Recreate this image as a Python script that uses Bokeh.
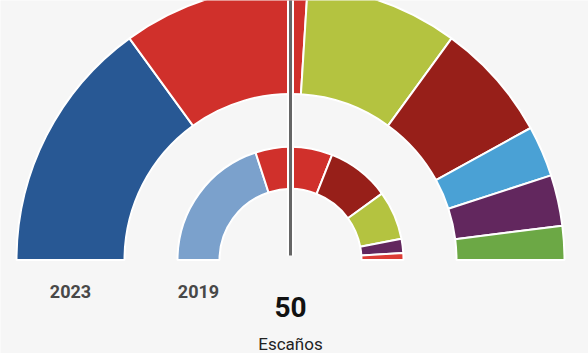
import numpy as np
from bokeh.plotting import figure
from bokeh.models import ColumnDataSource
from bokeh.core.properties import value
from bokeh.embed import file_html
from bokeh.resources import INLINE

# ---- data ----
total_seats = 50
parties_2023 = ["UPN", "PSN-PSOE", "EH Bildu", "Geroa Bai", "PP", "Contigo-Zurekin", "Vox"]
seats_2023 = [15, 11, 9, 7, 3, 3, 2]
colors_2023 = ["#285894", "#d0302b", "#b4c340", "#971f19", "#4aa1d5", "#62275e", "#6ca845"]

parties_2019 = ["Navarra Suma", "PSN-PSOE", "Geroa Bai", "EH Bildu", "Podemos", "I-E"]
seats_2019 = [20, 11, 9, 7, 2, 1]
colors_2019 = ["#7ba1cc", "#d0302b", "#971f19", "#b4c340", "#62275e", "#dc3c35"]

ring_labels = ["2023", "2019"]
center_number = "50"
center_label = "Escaños"

W, H = 588, 353
BG = "#f6f6f6"
cx, cy = 290, 93.5


def ring_source(parties, seats, colors):
    s = np.array(seats, dtype=float)
    c1 = np.cumsum(s)
    c0 = c1 - s
    step = np.pi / total_seats
    return ColumnDataSource(dict(
        party=parties, seats=seats, color=colors,
        start=np.pi - c1 * step, end=np.pi - c0 * step,
    ))


p = figure(width=W, height=H, x_range=(0, W), y_range=(0, H),
           output_backend="svg", toolbar_location=None, min_border=0)
p.axis.visible = False
p.grid.visible = False
p.outline_line_color = None
p.background_fill_color = BG
p.border_fill_color = BG

src23 = ring_source(parties_2023, seats_2023, colors_2023)
src19 = ring_source(parties_2019, seats_2019, colors_2019)

p.annular_wedge(x=cx, y=cy, inner_radius=166, outer_radius=274,
                start_angle="start", end_angle="end", fill_color="color",
                line_color="white", line_width=2, source=src23)
p.annular_wedge(x=cx, y=cy, inner_radius=71, outer_radius=113,
                start_angle="start", end_angle="end", fill_color="color",
                line_color="white", line_width=2, source=src19)

# majority line
p.segment(x0=[cx], y0=[98], x1=[cx], y1=[H + 10], line_color="white", line_width=7)
p.segment(x0=[cx], y0=[98], x1=[cx], y1=[H + 10], line_color="#666666", line_width=3)

# ring labels
p.text(x=[70, 198], y=[H - 291, H - 291], text=ring_labels,
       text_font=value("Roboto"), text_font_style="bold", text_font_size="18px",
       text_align="center", text_baseline="alphabetic", text_color="#484848")

p.text(x=[cx], y=[H - 306], text=[center_number],
       text_font=value("Roboto"), text_font_style="bold", text_font_size="28px",
       text_align="center", text_baseline="alphabetic", text_color="#111111")
p.text(x=[cx], y=[H - 343], text=[center_label],
       text_font=value("Roboto"), text_font_size="17px",
       text_align="center", text_baseline="alphabetic", text_color="#222222")

open("out.html", "w").write(file_html(p, INLINE))
